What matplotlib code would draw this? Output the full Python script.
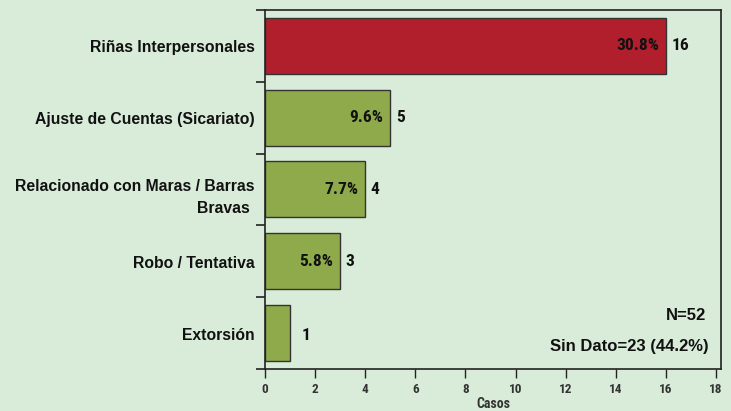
import matplotlib.pyplot as plt
from matplotlib.ticker import FixedLocator

categories = [
    "Riñas Interpersonales",
    "Ajuste de Cuentas (Sicariato)",
    "Relacionado con Maras / Barras\nBravas ",
    "Robo / Tentativa",
    "Extorsión",
]
casos = [16, 5, 4, 3, 1]
porcentajes = ["30.8%", "9.6%", "7.7%", "5.8%", ""]
bar_colors = ["#B21F2C", "#8EAA4A", "#8EAA4A", "#8EAA4A", "#8EAA4A"]
x_ticks = [0, 2, 4, 6, 8, 10, 12, 14, 16, 18]
total_n = 52
sin_dato = 23
sin_dato_pct = "44.2%"

BG = "#D9ECD9"
narrow = ["Roboto Condensed", "DejaVu Sans"]
wide = ["Liberation Sans", "DejaVu Sans"]

fig = plt.figure(figsize=(7.31, 4.11), dpi=100, facecolor=BG)
ax = fig.add_axes([0.3625, 0.1022, 0.6238, 0.8735])
ax.set_facecolor(BG)

y = list(range(len(categories)))
ax.barh(y, casos, height=0.78, color=bar_colors, edgecolor="#333333", linewidth=1.0)

ax.set_ylim(len(categories) - 0.5, -0.5)
ax.set_xlim(0, 18.2)

# category labels drawn by hand so the two-line one can sit a bit low
ax.set_yticks(y)
ax.set_yticklabels([])
ax.tick_params(axis="y", which="major", length=0)
for yi, cat in zip(y, categories):
    dy = -6 if "\n" in cat else -1.5
    ax.annotate(cat, (0, yi), xycoords=("axes fraction", "data"), xytext=(-7.5, dy),
                textcoords="offset points", ha="right", va="center", linespacing=1.6,
                fontfamily=wide, fontweight="bold", fontsize=11.3, color="#111111",
                annotation_clip=False)
ax.yaxis.set_minor_locator(FixedLocator([i - 0.5 for i in range(len(categories) + 1)]))
ax.tick_params(axis="y", which="minor", length=6.5, width=1.2, color="#222222")

ax.set_xticks(x_ticks)
ax.set_xticklabels([str(t) for t in x_ticks], fontfamily=narrow, fontweight="bold", fontsize=9.5, color="#333333")
ax.tick_params(axis="x", length=6.5, width=1.0, color="#222222", pad=3.5)
ax.set_xlabel("Casos", fontfamily=narrow, fontweight="bold", fontsize=10, color="#333333", labelpad=0.5)

for sp in ax.spines.values():
    sp.set_color("#222222")
    sp.set_linewidth(1.2)

for yi, v, p in zip(y, casos, porcentajes):
    if p:
        ax.annotate(p, (v, yi), xytext=(-5, 0), textcoords="offset points", ha="right", va="center",
                    fontfamily=narrow, fontweight="bold", fontsize=12.5, color="#111111")
        ax.annotate(str(v), (v, yi), xytext=(4, 0), textcoords="offset points", ha="left", va="center",
                    fontfamily=narrow, fontweight="bold", fontsize=12.5, color="#111111")
    else:
        ax.annotate(str(v), (v, yi), xytext=(8, -2), textcoords="offset points", ha="left", va="center",
                    fontfamily=narrow, fontweight="bold", fontsize=12.5, color="#111111")

ax.text(0.968, 0.148, f"N={total_n}", transform=ax.transAxes, ha="right", va="center",
        fontfamily=wide, fontweight="bold", fontsize=12, color="#111111")
ax.text(0.972, 0.062, f"Sin Dato={sin_dato} ({sin_dato_pct})", transform=ax.transAxes, ha="right", va="center",
        fontfamily=wide, fontweight="bold", fontsize=12, color="#111111")

fig.savefig("out.png", dpi=100, facecolor=BG)
